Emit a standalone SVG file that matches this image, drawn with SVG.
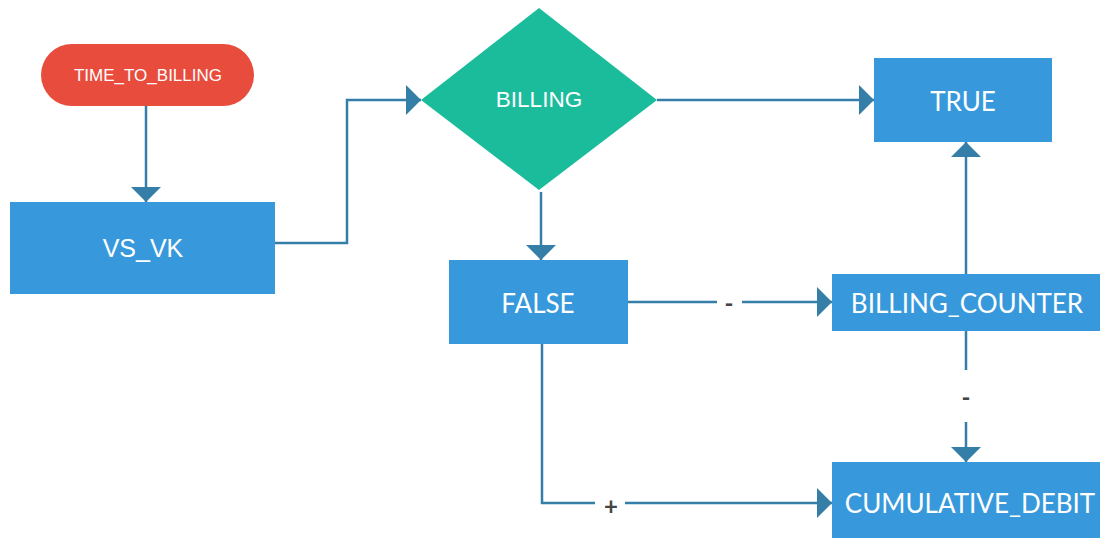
<svg xmlns="http://www.w3.org/2000/svg" width="1102" height="538" viewBox="0 0 1102 538">
<style>
.box{fill:#3799DB}
.t{fill:#ffffff;text-anchor:middle;dominant-baseline:central}
.lato{font-family:Lato,"Open Sans","Liberation Sans",sans-serif;font-size:26px}
.arial{font-family:"Liberation Sans",Arial,sans-serif}
.c{fill:none;stroke:#357EA8;stroke-width:2.5}
.lbl{font-family:Lato,"Liberation Sans",sans-serif;font-size:24px;font-weight:bold;fill:#444;text-anchor:middle;dominant-baseline:central}
</style>
<defs>
<marker id="ah" viewBox="0 0 15 30" refX="15" refY="15" markerWidth="15" markerHeight="30" markerUnits="userSpaceOnUse" orient="auto">
<path d="M0,0 L15,15 L0,30 Z" fill="#357EA8"/>
</marker>
</defs>
<g id="connectors">
<path class="c" d="M146,106 V202" marker-end="url(#ah)"/>
<path class="c" d="M275,243 H347 V100 H421" marker-end="url(#ah)"/>
<path class="c" d="M657,100 H874" marker-end="url(#ah)"/>
<path class="c" d="M541,192 V260" marker-end="url(#ah)"/>
<path class="c" d="M628,302 H717 M742,302 H832" marker-end="url(#ah)"/>
<path class="c" d="M966,274 V142" marker-end="url(#ah)"/>
<path class="c" d="M966,331 V370 M966,422 V462" marker-end="url(#ah)"/>
<path class="c" d="M542,344 V503 H595 M625,503 H832" marker-end="url(#ah)"/>
<text class="lbl" x="729" y="302">-</text>
<text class="lbl" x="966" y="396">-</text>
<text class="lbl" x="611" y="505">+</text>
</g>
<g id="time_to_billing">
<rect x="41" y="44" width="213" height="62" rx="31" fill="#E84C3D"/>
<text class="t arial" x="148" y="75" font-size="17">TIME_TO_BILLING</text>
</g>
<g id="vs_vk">
<rect class="box" x="10" y="202" width="265" height="92"/>
<text class="t arial" x="143" y="248" font-size="25">VS_VK</text>
</g>
<g id="billing">
<path d="M539,8 L657,100 L539,190 L421,100 Z" fill="#1ABC9C"/>
<text class="t arial" x="539" y="99" font-size="22.5">BILLING</text>
</g>
<g id="true">
<rect class="box" x="874" y="58" width="178" height="84"/>
<text class="t lato" x="963" y="101">TRUE</text>
</g>
<g id="false">
<rect class="box" x="449" y="260" width="179" height="84"/>
<text class="t lato" x="538" y="303">FALSE</text>
</g>
<g id="billing_counter">
<rect class="box" x="832" y="274" width="268" height="57"/>
<text class="t lato" x="967" y="303">BILLING_COUNTER</text>
</g>
<g id="cumulative_debit">
<rect class="box" x="832" y="462" width="268" height="84"/>
<text class="t lato" x="970" y="503">CUMULATIVE_DEBIT</text>
</g>
</svg>
